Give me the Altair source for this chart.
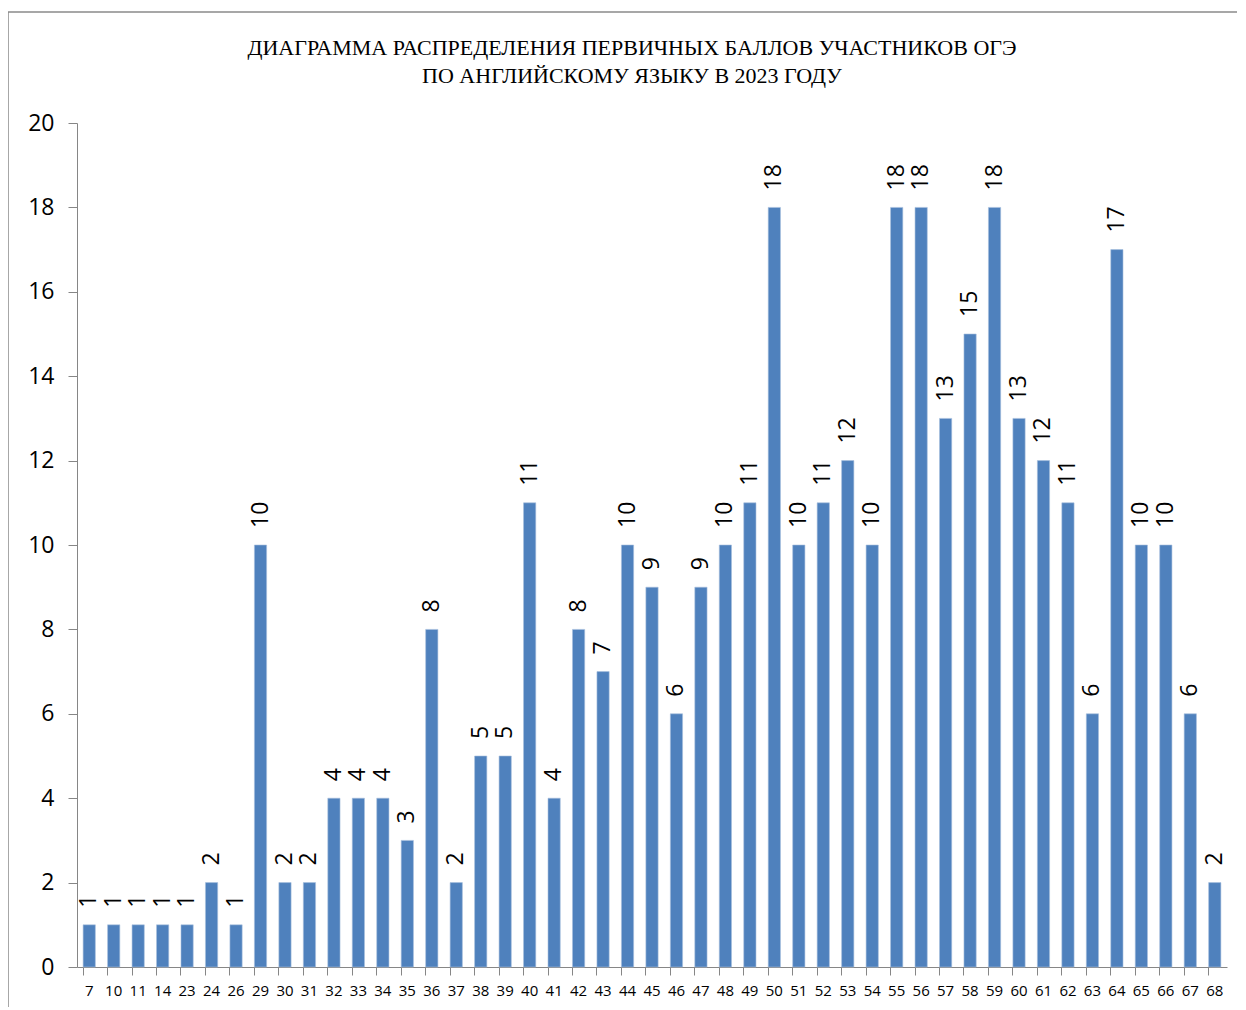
import altair as alt
import pandas as pd

scores = ["7", "10", "11", "14", "23", "24", "26", "29", "30", "31", "32", "33", "34", "35", "36", "37",
          "38", "39", "40", "41", "42", "43", "44", "45", "46", "47", "48", "49", "50", "51", "52", "53",
          "54", "55", "56", "57", "58", "59", "60", "61", "62", "63", "64", "65", "66", "67", "68"]
counts = [1, 1, 1, 1, 1, 2, 1, 10, 2, 2, 4, 4, 4, 3, 8, 2,
          5, 5, 11, 4, 8, 7, 10, 9, 6, 9, 10, 11, 18, 10, 11, 12,
          10, 18, 18, 13, 15, 18, 13, 12, 11, 6, 17, 10, 10, 6, 2]
y_ticks = [0, 2, 4, 6, 8, 10, 12, 14, 16, 18, 20]
title_lines = ["ДИАГРАММА РАСПРЕДЕЛЕНИЯ ПЕРВИЧНЫХ БАЛЛОВ УЧАСТНИКОВ ОГЭ",
               "ПО АНГЛИЙСКОМУ ЯЗЫКУ В 2023 ГОДУ"]

df = pd.DataFrame({"score": scores, "count": counts})

W, H = 1150, 844

x = alt.X("score:N", sort=scores, title=None,
          scale=alt.Scale(paddingInner=0.5, paddingOuter=0.25),
          axis=alt.Axis(labelAngle=0, labelFont="Open Sans", labelFontSize=15, labelColor="#000000",
                        domainColor="#868686", tickColor="#868686", tickSize=8, bandPosition=0,
                        labelPadding=8, grid=False))
y = alt.Y("count:Q", title=None,
          scale=alt.Scale(domain=[0, 20], nice=False),
          axis=alt.Axis(values=y_ticks, labelFont="Open Sans", labelFontSize=23, labelColor="#000000",
                        domainColor="#868686", tickColor="#868686", tickSize=9, labelPadding=14,
                        grid=False))

bars = alt.Chart(df).mark_bar(color="#4F81BD", stroke="#A7C0DE", strokeWidth=0.6).encode(x=x, y=y)

labels = alt.Chart(df).mark_text(angle=270, align="left", baseline="middle", dx=17,
                                 font="Open Sans", fontSize=23, color="#000000").encode(
    x=alt.X("score:N", sort=scores), y="count:Q", text="count:Q")

border = alt.Chart(pd.DataFrame({"a": [0]})).mark_rect(fill=None, stroke="#8a8a8a", strokeWidth=1.5).encode(
    x=alt.value(-69), x2=alt.value(1180), y=alt.value(-111), y2=alt.value(900))


def title_line(text, ypos):
    return alt.Chart(pd.DataFrame({"t": [text]})).mark_text(
        font="Liberation Serif", fontSize=22, color="#000000", align="center", baseline="middle").encode(
        x=alt.value(555), y=alt.value(ypos), text="t:N")


chart = alt.layer(border, bars, labels,
                  title_line(title_lines[0], -75), title_line(title_lines[1], -47)).properties(
    width=W, height=H,
    autosize=alt.AutoSizeParams(type="none"),
    padding={"left": 69, "top": 115, "right": 10, "bottom": 40},
).configure_view(stroke=None)

chart.save("out.html", embed_options={"renderer": "svg", "actions": False})
